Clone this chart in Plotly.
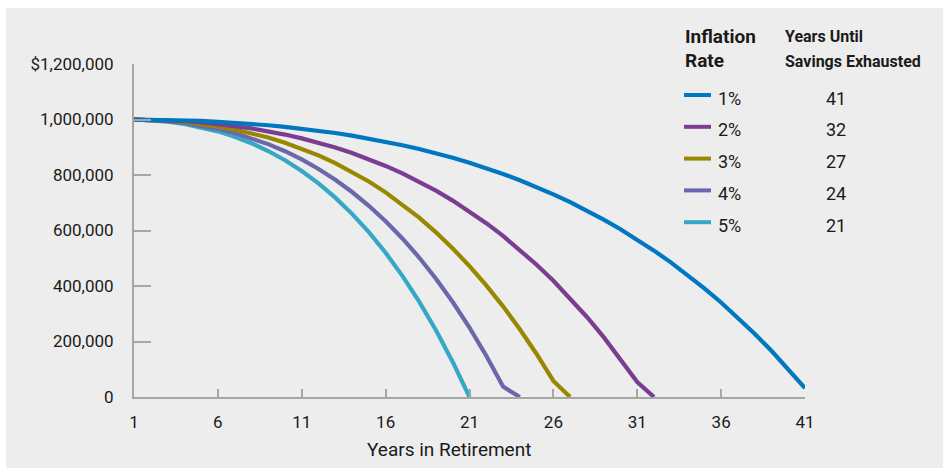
import plotly.graph_objects as go

# Portfolio balance by year of retirement, $1,000,000 starting savings
inflation_labels = ["1%", "2%", "3%", "4%", "5%"]
years_exhausted = [41, 32, 27, 24, 21]
line_colors = ["#0077c1", "#7a3d92", "#9a8700", "#6a68aa", "#35a8c7"]

balance_1 = [1000000, 999500, 998470, 996880, 994690, 991880, 988390, 984210, 979270, 973550,
             967000, 959570, 951200, 941860, 931480, 920000, 907380, 893530, 878400, 861910,
             844000, 824580, 803570, 780890, 756450, 730150, 701900, 671580, 639100, 604330,
             567150, 527440, 485070, 439880, 391750, 340510, 285990, 228040, 166470, 101080,
             31690]
balance_2 = [1000000, 999000, 996930, 993720, 989280, 983540, 976410, 967800, 957600, 945730,
             932060, 916500, 898910, 879180, 857160, 832730, 805720, 776000, 743390, 707710,
             668800, 626460, 580480, 530660, 476770, 418580, 355840, 288290, 215650, 137640,
             53960, 0]
balance_3 = [1000000, 998500, 995380, 990510, 983760, 974990, 964030, 950740, 934940, 916450,
             895080, 870620, 842860, 811580, 776530, 737450, 694090, 646150, 593340, 535330,
             471790, 402370, 326680, 244340, 154910, 57970, 0]
balance_4 = [1000000, 998000, 993820, 987270, 978140, 966210, 951260, 933020, 911250, 885640,
             855910, 821740, 782770, 738660, 689000, 633410, 571430, 502610, 426450, 342420,
             249990, 148550, 37480, 0]
balance_5 = [1000000, 997500, 992250, 983980, 972400, 957210, 938070, 914620, 886470, 853230,
             814450, 769650, 718340, 659980, 593980, 519730, 436580, 343800, 240660, 126350, 0]
balances = [balance_1, balance_2, balance_3, balance_4, balance_5]

x_tickvals = [1, 6, 11, 16, 21, 26, 31, 36, 41]
y_tickvals = [0, 200000, 400000, 600000, 800000, 1000000, 1200000]
y_ticktext = ["0", "200,000", "400,000", "600,000", "800,000", "1,000,000", "$1,200,000"]

FONT = "Roboto, Liberation Sans, sans-serif"
TEXT = "#1a1a1a"
AXIS = "#a5a5a5"
BG = "#ededed"

W, H = 943, 468
ML, MR, MT, MB = 134, 138, 64, 71
PW, PH = W - ML - MR, H - MT - MB


def px(xp):
    return (xp - ML) / PW


def py(yp):
    return (H - MB - yp) / PH


fig = go.Figure()

# draw the 1% curve last so it sits on top
for i in reversed(range(len(balances))):
    years = list(range(1, years_exhausted[i] + 1))
    fig.add_trace(go.Scatter(
        x=years, y=balances[i], mode="lines",
        line=dict(color=line_colors[i], width=4.2),
        name=inflation_labels[i], showlegend=False, hoverinfo="skip",
    ))

shapes = [
    # grey panel behind everything
    dict(type="rect", xref="paper", yref="paper", layer="below",
         x0=px(6), x1=px(W + 5), y0=py(H + 5), y1=py(8),
         fillcolor=BG, line=dict(width=0)),
]
annotations = [
    dict(text="<b>Inflation</b>", x=px(683), y=py(37), font=dict(size=19)),
    dict(text="<b>Rate</b>", x=px(683), y=py(60), font=dict(size=19)),
    dict(text="<b>Years Until</b>", x=px(783), y=py(37), font=dict(size=16)),
    dict(text="<b>Savings Exhausted</b>", x=px(783), y=py(61), font=dict(size=16)),
]
for a in annotations:
    a.update(xref="paper", yref="paper", xanchor="left", yanchor="middle",
             showarrow=False)
    a["font"].update(family=FONT, color=TEXT)

# x-axis caption, set slightly left of the plot centre
annotations.append(dict(text="Years in Retirement", x=px(449), y=py(449),
                        xref="paper", yref="paper", xanchor="center", yanchor="middle",
                        showarrow=False, font=dict(family=FONT, size=19, color=TEXT)))

row0, row_step = 95, 31.8
for i, label in enumerate(inflation_labels):
    yl = row0 + i * row_step
    shapes.append(dict(type="line", xref="paper", yref="paper",
                       x0=px(684), x1=px(711), y0=py(yl), y1=py(yl),
                       line=dict(color=line_colors[i], width=4)))
    annotations.append(dict(text=label, x=px(716), y=py(yl + 3), xref="paper", yref="paper",
                            xanchor="left", yanchor="middle", showarrow=False,
                            font=dict(family=FONT, size=18, color=TEXT)))
    annotations.append(dict(text=str(years_exhausted[i]), x=px(836), y=py(yl + 3),
                            xref="paper", yref="paper", xanchor="center", yanchor="middle",
                            showarrow=False, font=dict(family=FONT, size=18, color=TEXT)))

fig.update_layout(
    width=W, height=H,
    margin=dict(l=ML, r=MR, t=MT, b=MB, pad=0),
    paper_bgcolor="white", plot_bgcolor=BG,
    font=dict(family=FONT, size=17, color=TEXT),
    shapes=shapes, annotations=annotations,
    xaxis=dict(
        range=[1, 41], tickvals=x_tickvals, showgrid=False, zeroline=False,
        showline=True, linecolor=AXIS, linewidth=2,
        ticks="inside", ticklen=8, tickwidth=1.5, tickcolor=AXIS,
        ticklabelstandoff=9,
    ),
    yaxis=dict(
        range=[0, 1200000], tickvals=y_tickvals, ticktext=y_ticktext,
        showgrid=False, zeroline=False,
        showline=True, linecolor=AXIS, linewidth=2,
        ticks="inside", ticklen=17, tickwidth=1.5, tickcolor=AXIS,
        ticklabelstandoff=15,
    ),
)

fig.write_html("out.html")
